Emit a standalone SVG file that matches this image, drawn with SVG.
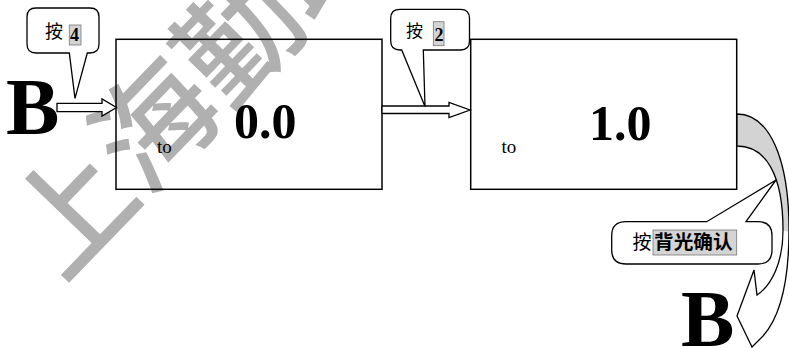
<svg xmlns="http://www.w3.org/2000/svg" width="789" height="348" viewBox="0 0 789 348">
<style>
.ln{stroke:#000;stroke-width:1.3;stroke-linejoin:miter}
.box{fill:none;stroke:#000;stroke-width:1.5}
.wf{fill:#fff}
.serif{font-family:"Liberation Serif","Times New Roman",serif}
.big{font-family:"Liberation Serif",serif;font-weight:bold;fill:#000}
.cjk{font-family:"Noto Sans CJK SC",sans-serif}
.hl{fill:#d4d4d4;stroke:#777;stroke-width:0.8}
</style>
<rect width="789" height="348" fill="#fff"/>
<g id="watermark">
<text transform="translate(62,284) rotate(-46)" class="cjk" font-size="120" font-weight="500" fill="#b0b0b0">上海勤助</text>
</g>
<g id="node-box1">
<rect class="box" x="116" y="39.3" width="266" height="150"/>
<text class="big" x="234" y="138" font-size="50">0.0</text>
<text class="serif" x="157" y="153" font-size="19">to</text>
</g>
<g id="node-box2">
<rect class="box" x="470.7" y="39.3" width="266" height="150"/>
<text class="big" x="589" y="140" font-size="50">1.0</text>
<text class="serif" x="501.5" y="152.5" font-size="19">to</text>
</g>
<g id="node-B-left">
<text class="big" x="6" y="134" font-size="80">B</text>
</g>
<g id="node-B-bottom">
<text class="big" x="681" y="345.5" font-size="80">B</text>
</g>
<g id="connectors">
<path class="ln wf" d="M57,103.3 H102 V99 L116.5,107.5 L102,116 V111.7 H57 Z"/>
<path class="ln wf" d="M382,106 H449 V102.5 L470,110 L449,117.5 V113.5 H382 Z"/>
<path class="wf" d="M737,114 C770,114 789,160 789,230 C789,282 781,316 763,336 L752,347 L737,316 L754,270 L757,295 C772,285 783,262 783,230 C783,175 766,146 737,146 Z"/>
<path d="M737,114 C770,114 789,160 789,232 L783,230 C783,175 766,146 737,146 Z" fill="#d3d3d3"/>
<path class="ln" fill="none" d="M737,114 C770,114 789,160 789,230 C789,282 781,316 763,336 L752,347 L737,316 L754,270 L757,295 C772,285 783,262 783,230 C783,175 766,146 737,146 Z"/>
</g>
<g id="callout-4">
<path class="ln wf" d="M36,8 H90 Q99,8 99,17 V44 Q99,53 90,53 H87.3 L75,98.3 L69.3,53 H36 Q27,53 27,44 V17 Q27,8 36,8 Z"/>
<text class="cjk" x="45" y="37.5" font-size="18">按</text>
<rect class="hl" x="69.3" y="25" width="11.7" height="20"/>
<text class="big" x="70" y="41" font-size="18">4</text>
</g>
<g id="callout-2">
<path class="ln wf" d="M400,9.3 H460.5 Q469.5,9.3 469.5,18.3 V41 Q469.5,50 460.5,50 H423.3 L425,106.5 L401.7,50 H400 Q390.7,50 390.7,41 V18.3 Q390.7,9.3 400,9.3 Z"/>
<text class="cjk" x="406" y="36.5" font-size="17">按</text>
<rect class="hl" x="433.3" y="21.7" width="10.7" height="24"/>
<text class="big" x="434.5" y="40.7" font-size="18">2</text>
</g>
<g id="callout-backlight">
<path class="ln wf" d="M626,221.7 H706.7 L776,180 L746,221.7 H758 Q772,221.7 772,235.7 V250 Q772,264 758,264 H626 Q611.7,264 611.7,250 V235.7 Q611.7,221.7 626,221.7 Z"/>
<text class="cjk" x="632.5" y="248.5" font-size="19">按</text>
<rect class="hl" x="653" y="230" width="83.7" height="25"/>
<text class="cjk" x="654" y="249" font-size="19.7" font-weight="bold">背光确认</text>
</g>
</svg>
